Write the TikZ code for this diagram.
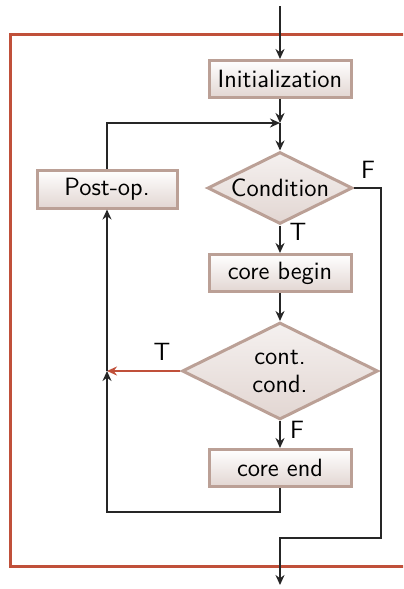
\documentclass[tikz,border=0pt]{standalone}
\usepackage{fontspec}
\usetikzlibrary{arrows.meta,shapes.geometric}
\definecolor{boxedge}{RGB}{187,160,150}
\definecolor{boxfill}{RGB}{226,214,210}
\definecolor{loopred}{RGB}{192,80,58}
\begin{document}
\begin{tikzpicture}[x=0.5pt,y=-0.5pt,
    font=\fontsize{12.5}{14}\selectfont\sffamily,
    >={Stealth[length=5pt,width=4.5pt]},
    flow/.style={draw=black!85,line width=1pt},
    box/.style={draw=boxedge,line width=1.5pt,top color=white,bottom color=boxfill,
      minimum width=71pt,minimum height=18.5pt,inner sep=0pt},
    test/.style={diamond,draw=boxedge,line width=1.5pt,top color=boxfill!35,bottom color=boxfill,
      inner sep=0pt,aspect=2,align=center}]
      \clip (0,0) rectangle (403,589);
      \draw[loopred,line width=1.5pt] (410,34) -| (10,566) -- (410,566);

      \node[box] (init) at (280,79)  {Initialization};
      \node[test,minimum width=72.5pt,minimum height=36pt] (cond) at (280,188) {\makebox[0pt]{Condition}};
      \node[box] (cbeg) at (280,273) {core begin};
      \node[test,minimum width=98pt,minimum height=48.5pt] (cont) at (280,371)
        {\makebox[0pt]{cont.}\\\makebox[0pt]{cond.}};
      \node[box] (cend) at (280,468) {core end};
      \node[box,minimum width=70pt,minimum height=19pt] (post) at (107,189) {Post-op.};

      \coordinate (top)    at (280,6);
      \coordinate (merge)  at (280,123);
      \coordinate (junc)   at (107,371);
      \coordinate (lowleft) at (107,512);
      \coordinate (fright) at (381,538);
      \coordinate (fdown)  at (280,538);
      \coordinate (bottom) at (280,585);

      \draw[flow,->] (top) -- (init);
      \draw[flow,->] (init) -- (merge);
      \draw[flow,->] (merge) -- (cond);
      \draw[flow,->] (post) |- (merge);
      \draw[flow,->] (cond) -- (cbeg);
      \draw[flow,->] (cbeg) -- (cont);
      \draw[flow,->] (cont) -- (cend);
      \draw[flow,draw=loopred,->] (cont) -- (junc);
      \draw[flow,->] (cend) |- (lowleft) -- (junc);
      \draw[flow,->] (junc) -- (post);
      \draw[flow,->] (cond) -| (fright) -- (fdown) -- (bottom);

      \node (condF) at (368,170) {F};
      \node (condT) at (298,232) {T};
      \node (contT) at (162,352) {T};
      \node (contF) at (297,430) {F};
    \end{tikzpicture}
\end{document}
